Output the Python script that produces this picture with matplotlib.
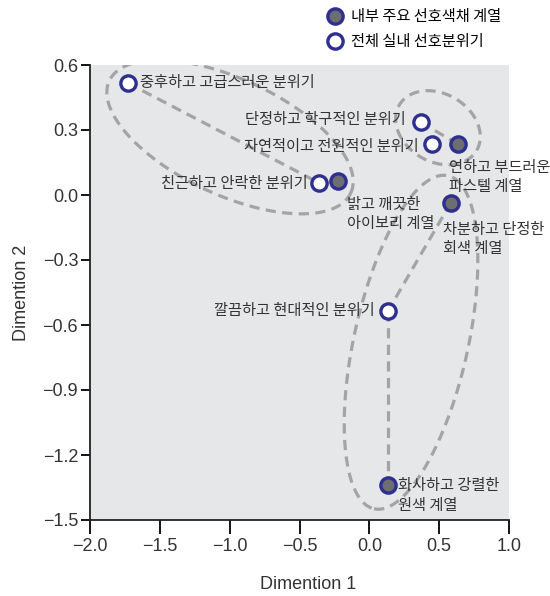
import numpy as np
import matplotlib
matplotlib.use('Agg')
from matplotlib import pyplot as plt
from matplotlib.lines import Line2D

plt.rcParams['font.family'] = ['Noto Sans CJK KR', 'DejaVu Sans']
NUM_FONT = ['Liberation Sans Narrow', 'Liberation Sans', 'DejaVu Sans']

# 전체 실내 선호분위기 (white markers)
mood_labels = ['중후하고 고급스러운 분위기', '단정하고 학구적인 분위기', '자연적이고 전원적인 분위기',
               '친근하고 안락한 분위기', '깔끔하고 현대적인 분위기']
mood_dim1 = [-1.73, 0.367, 0.451, -0.358, 0.135]
mood_dim2 = [0.517, 0.336, 0.234, 0.055, -0.534]

# 내부 주요 선호색채 계열 (gray markers)
color_labels = ['연하고 부드러운\n파스텔 계열', '밝고 깨끗한\n아이보리 계열',
                '차분하고 단정한\n회색 계열', '화사하고 강렬한\n원색 계열']
color_dim1 = [0.637, -0.222, 0.584, 0.135]
color_dim2 = [0.234, 0.065, -0.035, -1.338]

legend_labels = ['내부 주요 선호색채 계열', '전체 실내 선호분위기']
x_ticks = [-2.0, -1.5, -1.0, -0.5, 0.0, 0.5, 1.0]
y_ticks = [-1.5, -1.2, -0.9, -0.6, -0.3, 0.0, 0.3, 0.6]

NAVY = '#2e2f8e'
GRAY_FILL = '#6d6e70'
DASH_GRAY = '#a3a4a6'
TEXT = '#333333'
dash_style = dict(color=DASH_GRAY, lw=2.3, linestyle=(0, (3.2, 2.0)), zorder=2,
                  solid_capstyle='butt', dash_capstyle='butt')

fig = plt.figure(figsize=(5.5, 5.96), dpi=100)
ax = fig.add_axes([90 / 550, 1 - 520 / 596, 419 / 550, 455 / 596])
ax.set_facecolor('#e6e7e9')
ax.set_xlim(-2.0, 1.0)
ax.set_ylim(-1.5, 0.6)

pts = {}
for lab, x, y in zip(mood_labels, mood_dim1, mood_dim2):
    pts[lab] = (x, y)
for lab, x, y in zip(color_labels, color_dim1, color_dim2):
    pts[lab] = (x, y)


def outline(p, q, pad, minor, shift):
    # dashed cluster ellipse around the p-q pair, sized in pixels
    T = ax.transData
    a = T.transform(pts[p])
    b = T.transform(pts[q])
    mid = (a + b) / 2 + np.array(shift)
    d = b - a
    ang = np.arctan2(d[1], d[0])
    major = np.hypot(d[0], d[1]) / 2 + pad
    t = np.linspace(0, 2 * np.pi, 300)
    xs = mid[0] + major * np.cos(t) * np.cos(ang) - minor * np.sin(t) * np.sin(ang)
    ys = mid[1] + major * np.cos(t) * np.sin(ang) + minor * np.sin(t) * np.cos(ang)
    xy = T.inverted().transform(np.column_stack([xs, ys]))
    ax.plot(xy[:, 0], xy[:, 1], **dash_style)


def link(p, q):
    ax.plot([pts[p][0], pts[q][0]], [pts[p][1], pts[q][1]], **dash_style)


outline(mood_labels[0], color_labels[1], 17, 58, (-3, -5))
outline(mood_labels[1], color_labels[0], 23, 34, (-1.5, 5.5))
outline(color_labels[2], color_labels[3], 26, 57, (-8.5, 1.5))

link(mood_labels[0], mood_labels[3])
link(mood_labels[1], color_labels[0])
link(color_labels[2], mood_labels[4])
link(mood_labels[4], color_labels[3])

mk = dict(linestyle='none', marker='o', ms=11, mew=2.4, mec=NAVY, zorder=4)
ax.plot(color_dim1, color_dim2, mfc=GRAY_FILL, **mk)
ax.plot(mood_dim1, mood_dim2, mfc='white', **mk)

# label offsets in points: (dx, dy, ha, va)
mood_offsets = [(9, 0, 'left', 'center'), (-11, 2, 'right', 'center'),
                (-10, -1.5, 'right', 'center'), (-8, 0, 'right', 'center'),
                (-10, 0, 'right', 'center')]
color_offsets = [(-7, -10.5, 'left', 'top'), (6, -10.5, 'left', 'top'),
                 (-6, -13, 'left', 'top'), (7, 5.5, 'left', 'top')]
for lab, off in zip(mood_labels + color_labels, mood_offsets + color_offsets):
    ax.annotate(lab, pts[lab], xytext=off[:2], textcoords='offset points',
                ha=off[2], va=off[3], fontsize=11, color=TEXT, linespacing=1.2,
                zorder=5)

ax.set_xticks(x_ticks)
ax.set_yticks(y_ticks)
ax.set_xticklabels(['%.1f' % v if v >= 0 else '\u2212%.1f' % -v for v in x_ticks])
ax.set_yticklabels(['%.1f' % v if v >= 0 else '\u2212%.1f' % -v for v in y_ticks])
for tl in ax.get_xticklabels() + ax.get_yticklabels():
    tl.set_family(NUM_FONT)
    tl.set_fontsize(13)
    tl.set_color(TEXT)
ax.tick_params(axis='x', direction='out', length=10, width=1.3, pad=3)
ax.tick_params(axis='y', direction='out', length=6.5, width=1.3, pad=2)
for s in ['top', 'right']:
    ax.spines[s].set_visible(False)
for s in ['left', 'bottom']:
    ax.spines[s].set_linewidth(1.3)
    ax.spines[s].set_color('#222222')

ax.set_xlabel('Dimention 1', family=NUM_FONT, fontsize=13, color=TEXT)
ax.set_ylabel('Dimention 2', family=NUM_FONT, fontsize=13, color=TEXT)
ax.xaxis.set_label_coords(0.52, -0.122)
ax.yaxis.set_label_coords(-0.143, 0.5)

handles = [Line2D([], [], mfc=GRAY_FILL, **mk), Line2D([], [], mfc='white', **mk)]
fig.legend(handles, legend_labels, loc='upper left', bbox_to_anchor=(327 / 550, 1 - 8 / 596),
           frameon=False, borderpad=0, borderaxespad=0, handlelength=1.0,
           handletextpad=0.6, labelspacing=0.55, prop={'size': 11})

fig.savefig('out.png', dpi=100)
